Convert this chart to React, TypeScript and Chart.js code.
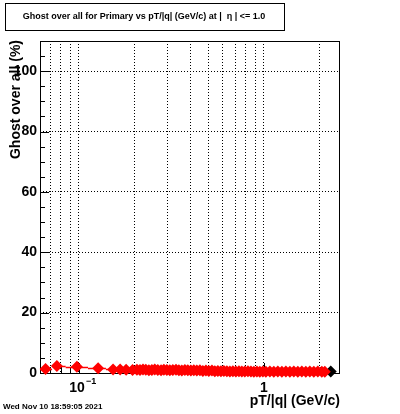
import React, { useEffect, useRef } from "react";
import { Chart, registerables } from "chart.js";

Chart.register(...registerables);

const TITLE = "Ghost over all for Primary vs pT/|q| (GeV/c) at |  \u03b7 | <= 1.0";
const Y_TITLE = "Ghost over all (%)";
const X_TITLE = "pT/|q| (GeV/c)";
const DATE_TEXT = "Wed Nov 10 18:59:05 2021";

const X_MIN = 0.0616;
const X_MAX = 2.58;
const Y_MIN = 0;
const Y_MAX = 110;
const xGridTicks = [0.07, 0.08, 0.09, 0.1, 0.2, 0.3, 0.4, 0.5, 0.6, 0.7, 0.8, 0.9, 1, 2];
const yTicks = [0, 20, 40, 60, 80, 100];
const yMinorTicks = [5, 10, 15, 25, 30, 35, 45, 50, 55, 65, 70, 75, 85, 90, 95, 105];

// red series (pT, ghost %)
const redX = [
  0.066, 0.076, 0.0975, 0.127, 0.153, 0.167, 0.18, 0.195,
  0.206, 0.214, 0.222, 0.23, 0.239, 0.248, 0.257, 0.267, 0.278, 0.288,
  0.299, 0.31, 0.322, 0.335, 0.347, 0.36, 0.374, 0.388, 0.403, 0.418,
  0.434, 0.451, 0.468, 0.486, 0.504, 0.524, 0.543, 0.564, 0.586, 0.608,
  0.631, 0.655, 0.68, 0.706, 0.733, 0.76, 0.789, 0.82, 0.851, 0.883,
  0.917, 0.951, 0.988, 1.025, 1.078, 1.132, 1.19, 1.251, 1.315, 1.382,
  1.452, 1.526, 1.604, 1.686, 1.772, 1.862, 1.957, 2.057, 2.136,
];
const redY = [
  1.3, 2.3, 2.1, 1.6, 1.2, 1.2, 1.1, 1.0,
  1.1, 1.0, 1.2, 1.1, 0.9, 1.0, 1.2, 1.0, 0.9, 1.1,
  1.0, 0.9, 1.0, 1.1, 0.9, 0.8, 1.0, 0.9, 0.8, 0.9,
  0.8, 0.9, 0.7, 0.8, 0.7, 0.8, 0.6, 0.7, 0.6, 0.7,
  0.6, 0.5, 0.6, 0.5, 0.6, 0.5, 0.5, 0.6, 0.5, 0.4,
  0.5, 0.4, 0.5, 0.4, 0.5, 0.4, 0.5, 0.4, 0.5, 0.4,
  0.5, 0.4, 0.5, 0.4, 0.5, 0.4, 0.5, 0.4, 0.4,
];
// x error bar edges for the sparse low-pT points
const errLow = [0.0616, 0.0716, 0.0848, 0.112, 0.14, 0.16, 0.175];
const errHigh = [0.0716, 0.0848, 0.112, 0.14, 0.16, 0.175, 0.191];

const blackX = [2.3];
const blackY = [0.5];

const FONT = "'Liberation Sans', Arial, Helvetica, sans-serif";

export default function App() {
  const ref = useRef<HTMLCanvasElement | null>(null);

  useEffect(() => {
    if (!ref.current) return;

    const decor = {
      id: "decor",
      beforeDatasetsDraw(chart: any) {
        const ctx = chart.ctx;
        const a = chart.chartArea;
        const xs = chart.scales.x;
        const ys = chart.scales.y;
        ctx.save();
        // frame
        ctx.strokeStyle = "#000";
        ctx.lineWidth = 1;
        ctx.strokeRect(a.left + 0.5, a.top + 0.5, a.right - a.left - 1, a.bottom - a.top);
        // y ticks (inward)
        ctx.beginPath();
        for (const v of yTicks) {
          const y = Math.round(ys.getPixelForValue(v)) + 0.5;
          ctx.moveTo(a.left, y);
          ctx.lineTo(a.left + 9, y);
        }
        for (const v of yMinorTicks) {
          const y = Math.round(ys.getPixelForValue(v)) + 0.5;
          ctx.moveTo(a.left, y);
          ctx.lineTo(a.left + 5, y);
        }
        // x ticks (inward)
        for (const v of xGridTicks) {
          const x = Math.round(xs.getPixelForValue(v)) + 0.5;
          const len = v === 0.1 || v === 1 ? 10 : 6;
          ctx.moveTo(x, a.bottom);
          ctx.lineTo(x, a.bottom - len);
        }
        ctx.stroke();

        // error bars
        ctx.strokeStyle = "#ff0000";
        ctx.lineWidth = 1.5;
        for (let i = 0; i < errLow.length; i++) {
          const y = Math.round(ys.getPixelForValue(redY[i])) + 0.5;
          ctx.beginPath();
          ctx.moveTo(xs.getPixelForValue(errLow[i]), y);
          ctx.lineTo(xs.getPixelForValue(errHigh[i]), y);
          ctx.stroke();
        }
        ctx.restore();
      },
      afterDraw(chart: any) {
        const ctx = chart.ctx;
        const a = chart.chartArea;
        const xs = chart.scales.x;
        ctx.save();
        // x tick labels
        ctx.fillStyle = "#000";
        ctx.textBaseline = "alphabetic";
        ctx.font = `bold 14px ${FONT}`;
        ctx.textAlign = "center";
        const x01 = xs.getPixelForValue(0.1);
        ctx.fillText("10", x01 - 2, a.bottom + 19);
        ctx.font = `bold 9px ${FONT}`;
        ctx.textAlign = "left";
        ctx.fillText("\u22121", x01 + 7, a.bottom + 11);
        ctx.font = `bold 14px ${FONT}`;
        ctx.textAlign = "center";
        ctx.fillText("1", xs.getPixelForValue(1), a.bottom + 19);

        // x title
        ctx.textAlign = "right";
        ctx.font = `bold 14px ${FONT}`;
        ctx.fillText(X_TITLE, a.right, 405);

        // y title
        ctx.save();
        ctx.translate(20, a.top - 1);
        ctx.rotate(-Math.PI / 2);
        ctx.textAlign = "right";
        ctx.fillText(Y_TITLE, 0, 0);
        ctx.restore();

        // date
        ctx.font = `bold 8px ${FONT}`;
        ctx.textAlign = "left";
        ctx.fillText(DATE_TEXT, 3, 409);

        // title box
        ctx.fillStyle = "#fff";
        ctx.fillRect(5, 3, 279, 27);
        ctx.strokeStyle = "#000";
        ctx.lineWidth = 1;
        ctx.strokeRect(5.5, 3.5, 279, 27);
        ctx.fillStyle = "#000";
        ctx.font = `bold 9px ${FONT}`;
        ctx.textAlign = "center";
        ctx.textBaseline = "middle";
        ctx.fillText(TITLE, 144, 17);
        ctx.restore();
      },
    };

    const chart = new Chart(ref.current, {
      type: "scatter",
      data: {
        datasets: [
          {
            label: "red",
            data: redX.map((x, i) => ({ x, y: redY[i] })),
            pointStyle: "rectRot",
            pointRadius: 6,
            backgroundColor: "#ff0000",
            borderColor: "#ff0000",
            borderWidth: 0,
            clip: false,
          },
          {
            label: "black",
            data: blackX.map((x, i) => ({ x, y: blackY[i] })),
            pointStyle: "rectRot",
            pointRadius: 6,
            backgroundColor: "#000",
            borderColor: "#000",
            borderWidth: 0,
            clip: false,
          },
        ],
      },
      options: {
        responsive: false,
        devicePixelRatio: 1,
        animation: false,
        layout: { padding: { left: 0, top: 41, right: 60, bottom: 41 } },
        plugins: { legend: { display: false }, tooltip: { enabled: false }, title: { display: false } },
        scales: {
          x: {
            type: "logarithmic",
            min: X_MIN,
            max: X_MAX,
            afterBuildTicks: (s: any) => {
              s.ticks = xGridTicks.map((v) => ({ value: v }));
            },
            ticks: { display: false },
            grid: {
              color: "#000",
              lineWidth: 1,
              drawTicks: false,
            },
            border: { display: false, dash: [1, 2] },
          },
          y: {
            type: "linear",
            min: Y_MIN,
            max: Y_MAX,
            afterBuildTicks: (s: any) => {
              s.ticks = yTicks.map((v) => ({ value: v }));
            },
            afterFit: (s: any) => {
              s.width = 40;
            },
            ticks: {
              color: "#000",
              padding: 3,
              font: { family: FONT, size: 14, weight: "bold" },
            },
            grid: {
              color: "#000",
              lineWidth: 1,
              drawTicks: false,
            },
            border: { display: false, dash: [1, 2] },
          },
        },
      },
      plugins: [decor],
    } as any);

    return () => chart.destroy();
  }, []);

  return (
    <canvas
      ref={ref}
      width={400}
      height={414}
      style={{ position: "absolute", left: 0, top: 0, width: 400, height: 414 }}
    />
  );
}
